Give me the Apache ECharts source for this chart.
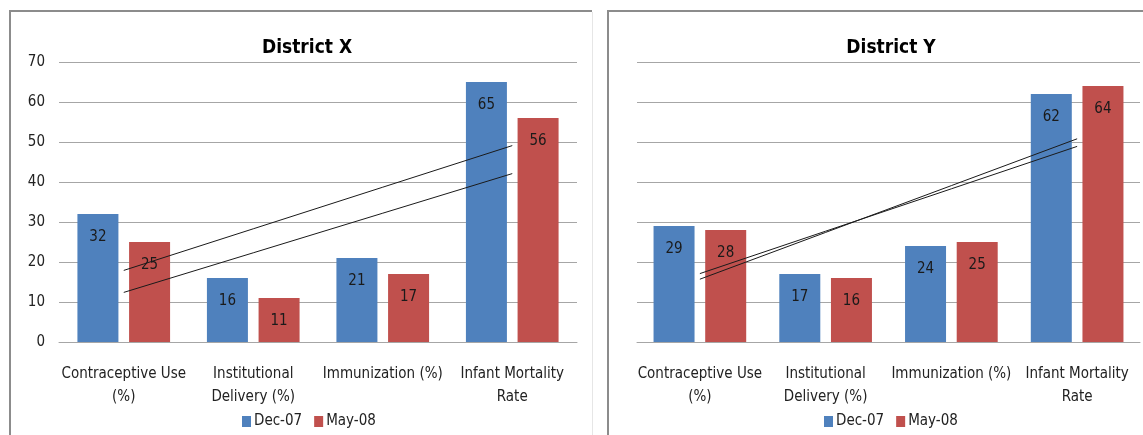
<!DOCTYPE html>
<html>
<head>
<meta charset="utf-8">
<script src="https://cdn.jsdelivr.net/npm/echarts@6/dist/echarts.min.js"></script>
<style>
html,body{margin:0;padding:0;background:#fff;}
#c{width:1143px;height:435px;}
</style>
</head>
<body>
<div id="c"></div>
<script>
const categories = ['Contraceptive Use\n(%)', 'Institutional\nDelivery (%)', 'Immunization (%)', 'Infant Mortality\nRate'];
const seriesNames = ['Dec-07', 'May-08'];
const titles = ['District X', 'District Y'];
const xDec07 = [32, 16, 21, 65];
const xMay08 = [25, 11, 17, 56];
const yDec07 = [29, 17, 24, 62];
const yMay08 = [28, 16, 25, 64];
const yTicks = [0, 10, 20, 30, 40, 50, 60, 70];

// Linear trendline (least squares) of a series over category positions 1..n
function trend(vals) {
  const n = vals.length;
  let sx = 0, sy = 0, sxx = 0, sxy = 0;
  vals.forEach((v, i) => { const x = i + 1; sx += x; sy += v; sxx += x * x; sxy += x * v; });
  const b = (n * sxy - sx * sy) / (n * sxx - sx * sx);
  const a = (sy - b * sx) / n;
  return vals.map((v, i) => +(a + b * (i + 1)).toFixed(3));
}

const FONT = '"Liberation Sans Narrow", "DejaVu Sans Condensed", "Liberation Sans", sans-serif';
const BLUE = '#4F81BD', RED = '#C0504D';

const panels = [
  {left: 59, width: 518, dec: xDec07, may: xMay08, showY: true, tx: 302, lx: 237},
  {left: 637, width: 503, dec: yDec07, may: yMay08, showY: false, tx: 886, lx: 819}
];

const option = {
  animation: false,
  backgroundColor: '#fff',
  textStyle: {fontFamily: FONT},
  title: panels.map((p, i) => ({
    text: titles[i], left: p.tx, top: 34, textAlign: 'center',
    textStyle: {fontFamily: FONT, fontSize: 19, fontWeight: 'bold', color: '#000'}
  })),
  legend: panels.map((p, i) => ({
    data: seriesNames, left: p.lx, top: 409,
    itemWidth: 9, itemHeight: 11, itemGap: 12, icon: 'rect',
    textStyle: {fontFamily: FONT, fontSize: 15, color: '#222', padding: [0, 0, 0, -2]}
  })),
  grid: panels.map(p => ({left: p.left, width: p.width, top: 62, height: 280, containLabel: false})),
  xAxis: panels.map((p, i) => ({
    type: 'category', gridIndex: i, data: categories,
    axisLine: {lineStyle: {color: '#a6a6a6', width: 1}},
    axisTick: {show: false},
    axisLabel: {fontFamily: FONT, fontSize: 15, color: '#222', margin: 21, lineHeight: 23, interval: 0}
  })),
  yAxis: panels.map((p, i) => ({
    type: 'value', gridIndex: i, min: yTicks[0], max: yTicks[yTicks.length - 1], interval: 10,
    axisLine: {show: false}, axisTick: {show: false},
    splitLine: {lineStyle: {color: '#a6a6a6', width: 1}},
    axisLabel: {show: p.showY, fontFamily: FONT, fontSize: 15, color: '#222', margin: 14}
  })),
  series: [],
  graphic: [
    {type: 'line', shape: {x1: 9, y1: 11, x2: 592, y2: 11}, style: {stroke: '#8c8c8c', lineWidth: 2}, silent: true},
    {type: 'line', shape: {x1: 10, y1: 11, x2: 10, y2: 435}, style: {stroke: '#8c8c8c', lineWidth: 2}, silent: true},
    {type: 'line', shape: {x1: 592.5, y1: 12, x2: 592.5, y2: 435}, style: {stroke: '#e6e6e6', lineWidth: 1}, silent: true},
    {type: 'line', shape: {x1: 607, y1: 11, x2: 1143, y2: 11}, style: {stroke: '#8c8c8c', lineWidth: 2}, silent: true},
    {type: 'line', shape: {x1: 608, y1: 11, x2: 608, y2: 435}, style: {stroke: '#8c8c8c', lineWidth: 2}, silent: true}
  ]
};

panels.forEach((p, i) => {
  [[p.dec, BLUE, seriesNames[0]], [p.may, RED, seriesNames[1]]].forEach(([vals, col, name]) => {
    option.series.push({
      type: 'bar', name: name, xAxisIndex: i, yAxisIndex: i, data: vals,
      barWidth: 41, barGap: '26%',
      itemStyle: {color: col},
      label: {show: true, position: 'insideTop', distance: 16, fontFamily: FONT, fontSize: 15, color: '#1a1a1a'}
    });
  });
  [p.dec, p.may].forEach(vals => {
    option.series.push({
      type: 'line', xAxisIndex: i, yAxisIndex: i, data: trend(vals),
      symbol: 'none', silent: true, z: 5,
      lineStyle: {color: '#1a1a1a', width: 1}
    });
  });
});

const chart = echarts.init(document.getElementById('c'), null, {renderer: 'canvas'});
chart.setOption(option);
</script>
</body>
</html>
